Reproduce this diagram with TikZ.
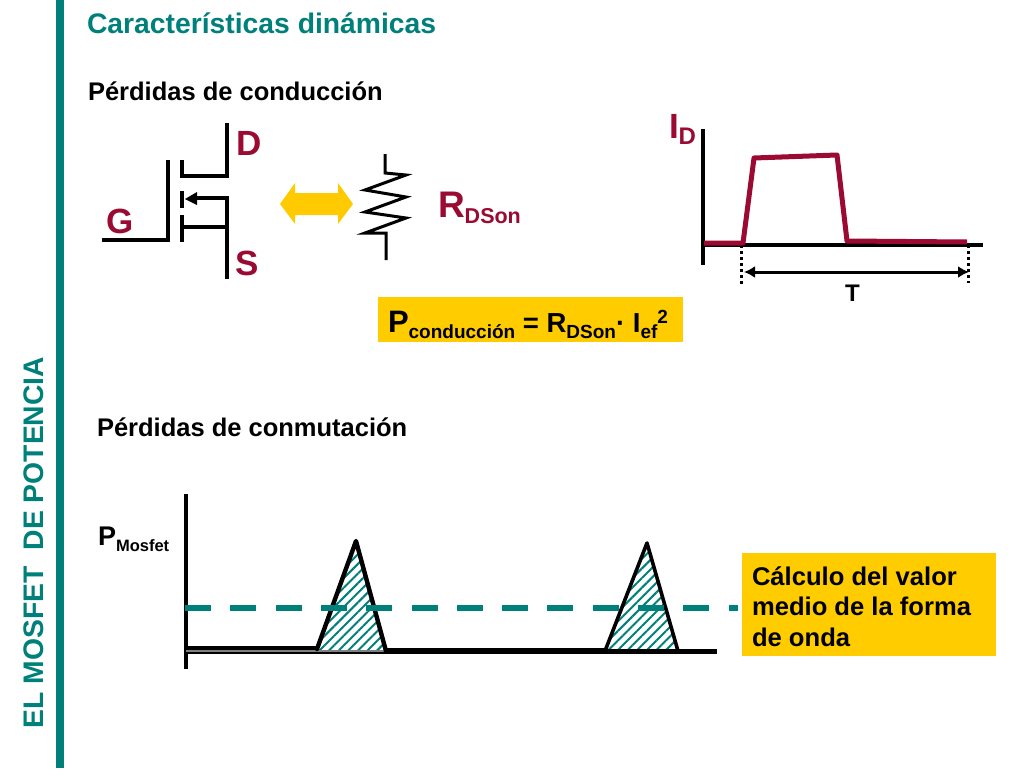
\documentclass[tikz,border=0pt]{standalone}
\usepackage{fontspec}
\setmainfont{Liberation Sans}
\usetikzlibrary{patterns.meta,arrows.meta}
\definecolor{tealbar}{HTML}{00807A}
\definecolor{wine}{HTML}{9B0A32}
\definecolor{gold}{HTML}{FFCC00}
\newcommand{\fs}[1]{\fontsize{#1}{#1}\selectfont\bfseries}
\tikzset{
  x=1pt,y=-1pt,
  lbl/.style={inner sep=0pt,outer sep=0pt,anchor=base west,align=left},
  tealtext/.style={lbl,text=tealbar},
  winetext/.style={lbl,text=wine},
  wire/.style={line width=4pt,black,line cap=butt,line join=miter},
  hatched/.style={pattern={Lines[angle=45,distance=6.8pt,line width=2pt]},pattern color=tealbar},
  tri/.style={line width=4.4pt,black,line join=round,line cap=round},
}
\begin{document}
\begin{tikzpicture}
\useasboundingbox (0,0) rectangle (1024,768);
\fill[white] (0,0) rectangle (1024,768);
\fill[tealbar] (56,0) rectangle (64,768);
\node[tealtext,rotate=90] (side) at (43.5,728) {\fs{28.3}EL MOSFET\ \ DE POTENCIA};
\node[tealtext] (title) at (87,34) {\fs{28.3}Características dinámicas};
\node[lbl] (cond) at (88,100) {\fs{25.5}Pérdidas de conducción};
\node[lbl] (conm) at (97,436) {\fs{25.5}Pérdidas de conmutación};

% MOSFET
\draw[wire] (102,240) -- (168,240) -- (168,160);
\draw[wire] (182,160) -- (182,178);
\draw[wire] (182,191) -- (182,208);
\draw[wire] (182,215) -- (182,242);
\draw[wire] (182,176) -- (227,176) -- (227,123);
\draw[wire] (182,227) -- (227,227);
\draw[wire] (227,279) -- (227,198) -- (195,198);
\fill (185,199) -- (197,192) -- (197,205) -- cycle;
\node[winetext] (D) at (236,155) {\fs{35}D};
\node[winetext] (G) at (106,233) {\fs{35}G};
\node[winetext] (S) at (235,275) {\fs{35}S};

% double arrow
\fill[gold!97!orange] (280,204) -- (295,183) -- (295,193) -- (338,193) -- (338,183) -- (353,204) -- (338,224) -- (338,215) -- (295,215) -- (295,224) -- cycle;

% resistor
\draw[line width=3pt,black,line join=miter] (385,154) -- (385,173) -- (406,175) -- (365,190) -- (406,197) -- (365,212) -- (406,218) -- (365,233) -- (386,233) -- (386,260);
\node[winetext] (R) at (438,217) {\fs{37}R\raisebox{-6pt}{\fs{21.5}DSon}};

% formula
\fill[gold] (378,297) rectangle (683,342);
\node[lbl] (P) at (388,332) {\fs{31}P\raisebox{-6pt}{\fs{19}conducción}\fs{27.5} = R\raisebox{-6pt}{\fs{19}DSon}· I\raisebox{-6pt}{\fs{19}ef}\raisebox{9pt}{\fs{19}2}};

% ID chart
\node[winetext] (ID) at (669,138) {\fs{35}I\raisebox{-6pt}{\fs{24}D}};
\draw[line width=3.4pt] (703,129) -- (703,265);
\draw[line width=3.4pt] (703,245) -- (983,245);
\draw[line width=3pt,dash pattern=on 3pt off 3pt] (741,245) -- (741,285);
\draw[line width=3pt,dash pattern=on 3pt off 3pt] (968,245) -- (968,283);
\draw[line width=5pt,wine,line join=round] (704,243) -- (743,243) -- (754,158) -- (837,155) -- (847,241) -- (967,242);
\coordinate (tl) at (744,272);
\coordinate (tr) at (969,272);
\draw[line width=3pt,{Latex[length=11pt,width=12pt]}-{Latex[length=11pt,width=12pt]}] (tl) -- (tr);
\node[lbl] (T) at (845,301) {\fs{24}T};

% P chart
\node[lbl] (PM) at (98,545) {\fs{27}P\raisebox{-6pt}{\fs{16.5}Mosfet}};
\fill[hatched] (317,650) -- (356,541) -- (386,650) -- cycle;
\fill[hatched] (605,650) -- (647,543) -- (678,650) -- cycle;
\draw[line width=3.4pt] (186,494) -- (186,669);
\draw[line width=3.2pt] (186,648) -- (317,648);
\draw[line width=1.4pt,gray] (186,651) -- (386,651);
\draw[line width=1.6pt] (186,653) -- (386,653);
\draw[line width=6pt] (386,651) -- (605,651);
\draw[line width=5pt] (605,651) -- (717,651);
\draw[tri] (317,649) -- (356,541) -- (386,651);
\draw[line width=3.6pt,line cap=round,line join=round] (605,651) -- (647,543) -- (678,651);
\draw[line width=6.8pt,tealbar,dash pattern=on 26pt off 19.3pt] (185,608) -- (738,608);

% note
\fill[gold] (742,553) rectangle (996,656);
\node[lbl] (note) at (752,585) {\fs{25.6}Cálculo del valor};
\node[lbl] (note2) at (752,615) {\fs{25.6}medio de la forma};
\node[lbl] (note3) at (752,646) {\fs{25.6}de onda};
\end{tikzpicture}
\end{document}
